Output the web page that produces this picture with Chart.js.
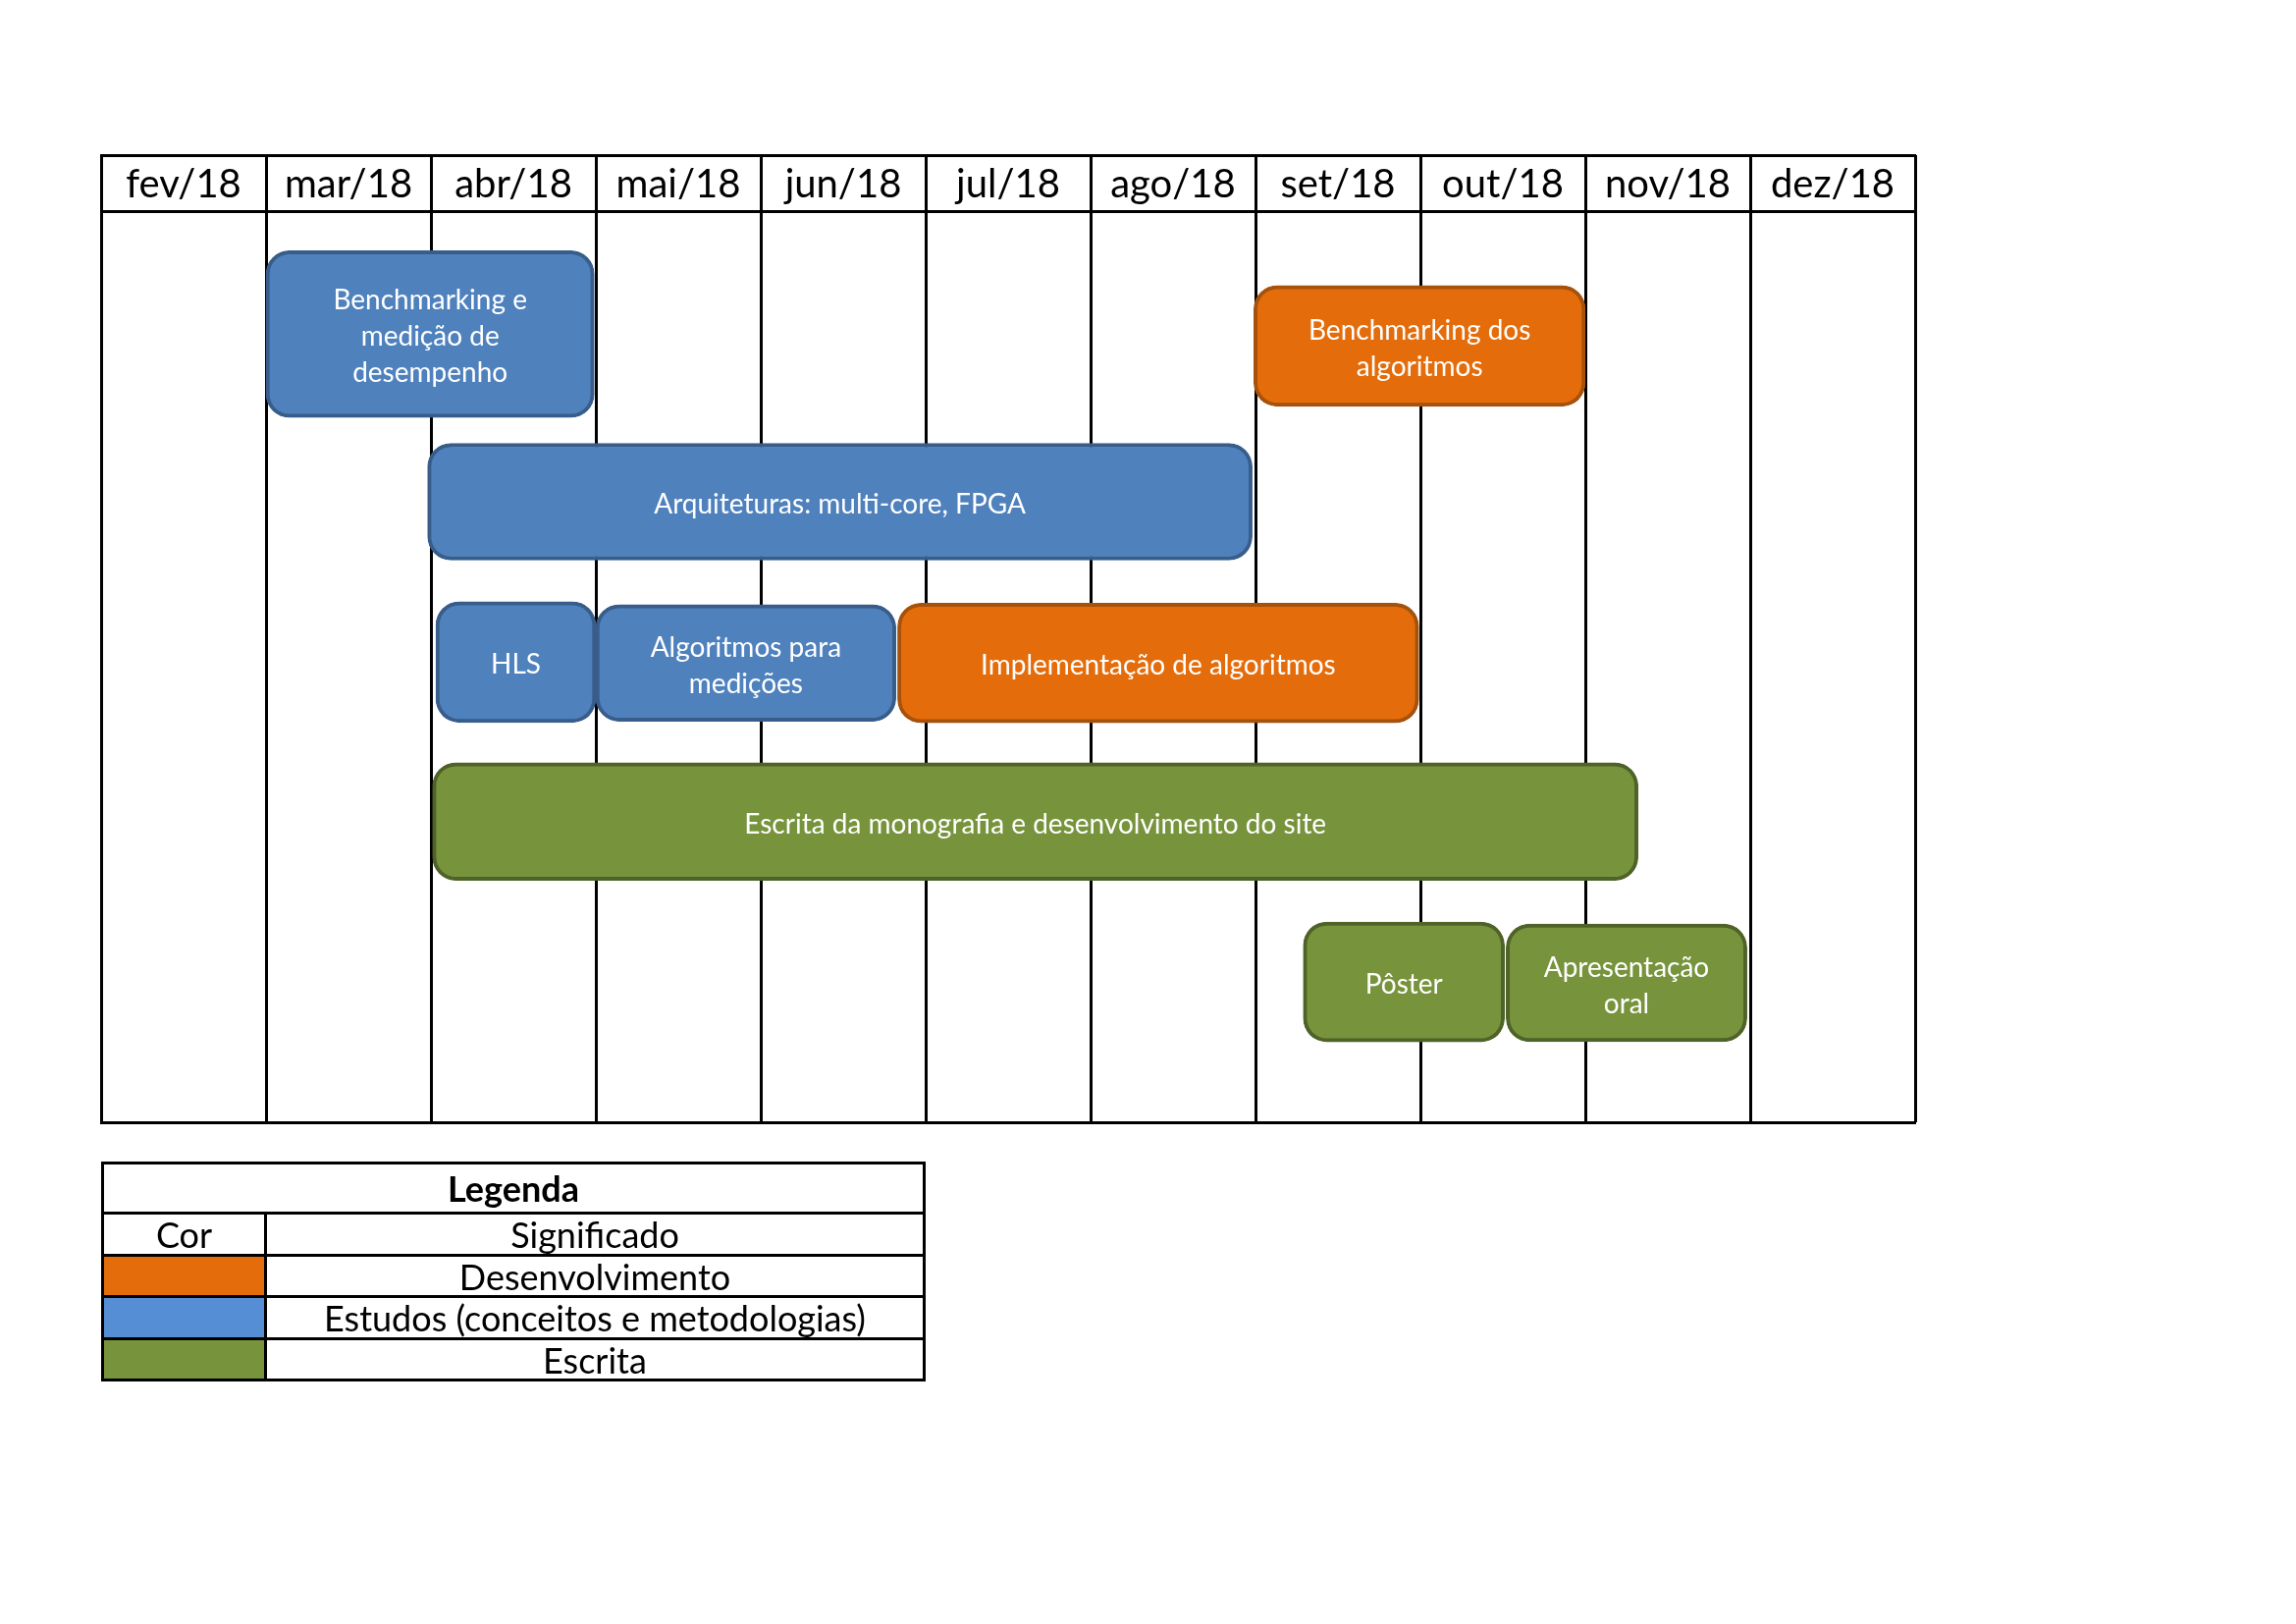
<!DOCTYPE html>
<html>
<head>
<meta charset="utf-8">
<style>
html, body { margin: 0; padding: 0; background: #fff; }
#wrap { position: relative; width: 2339px; height: 1654px; }
#grafico { position: absolute; left: 0; top: 0; }
#legenda { position: absolute; left: 103px; top: 1183px; width: 840px; border-collapse: collapse;
  font-family: Lato, sans-serif; font-size: 36px; color: #000; }
#legenda td { border: 3px solid #000; text-align: center; padding: 0; line-height: 1; }
#legenda th { border: 3px solid #000; text-align: center; padding: 0; line-height: 1; font-weight: bold; }
</style>
</head>
<body>
<div id="wrap">
  <canvas id="grafico" width="2339" height="1654"></canvas>
  <table id="legenda"></table>
</div>

<script src="https://cdn.jsdelivr.net/npm/chart.js"></script>
<script>
// meses do cronograma
const meses = ['fev/18', 'mar/18', 'abr/18', 'mai/18', 'jun/18', 'jul/18', 'ago/18', 'set/18', 'out/18', 'nov/18', 'dez/18'];

// atividades (inicio/fim em meses a partir de fev/18, linha = posicao vertical)
const tarefas = [
  ['Benchmarking e', 'medição de', 'desempenho'],
  ['Benchmarking dos', 'algoritmos'],
  ['Arquiteturas: multi-core, FPGA'],
  ['HLS'],
  ['Algoritmos para', 'medições'],
  ['Implementação de algoritmos'],
  ['Escrita da monografia e desenvolvimento do site'],
  ['Pôster'],
  ['Apresentação', 'oral']
];
const inicio = [1, 6.99, 1.98, 2.03, 3, 4.83, 2.01, 7.29, 8.52];
const fim    = [2.99, 9, 6.98, 3, 4.82, 7.99, 9.32, 8.51, 9.98];
const linha  = [1.35, 1.48, 3.19, 4.95, 4.96, 4.96, 6.70, 8.46, 8.47];
const tipo   = ['estudo', 'desenv', 'estudo', 'estudo', 'estudo', 'desenv', 'escrita', 'escrita', 'escrita'];

// legenda
const legendaCores = ['desenv', 'estudo', 'escrita'];
const legendaTexto = ['Desenvolvimento', 'Estudos (conceitos e metodologias)', 'Escrita'];

// estilos
const altura = [170, 123, 119, 123, 119, 122, 120, 122, 120];
const corFundo = { estudo: '#4F81BD', desenv: '#E46C0A', escrita: '#77933C' };
const corBorda = { estudo: '#385D8A', desenv: '#A5520C', escrita: '#4F6228' };
const corLegenda = { estudo: '#558ED5', desenv: '#E46C0A', escrita: '#77933C' };

const W = 2339, H = 1654;
const pad = { left: 103, right: 388, top: 158, bottom: 511 };
const colW = (W - pad.left - pad.right) / meses.length;
const cabecalho = 57;
const fonteMes = 40;

// monta a tabela da legenda
let tab = document.getElementById('legenda');
let html = '<tr style="height:51px"><th colspan="2">Legenda</th></tr>';
html += '<tr style="height:43px"><td style="width:163px">Cor</td><td>Significado</td></tr>';
legendaCores.forEach((c, i) => {
  html += '<tr style="height:' + (i % 2 ? 43 : 42) + 'px"><td style="background:' + corLegenda[c] + '"></td><td>' + legendaTexto[i] + '</td></tr>';
});
tab.innerHTML = html;

// texto dentro das barras
const rotulos = {
  id: 'rotulos',
  afterDatasetsDraw(chart) {
    let ctx = chart.ctx;
    ctx.save();
    ctx.fillStyle = '#fff';
    ctx.font = '28px Lato';
    ctx.textAlign = 'center';
    ctx.textBaseline = 'middle';
    chart.data.datasets.forEach((ds, i) => {
      let bar = chart.getDatasetMeta(i).data[0];
      let c = bar.getCenterPoint();
      let linhas = tarefas[i];
      linhas.forEach((t, k) => {
        ctx.fillText(t, c.x, c.y + 3 + (k - (linhas.length - 1) / 2) * 37);
      });
    });
    ctx.restore();
  }
};

let datasets = tarefas.map((t, i) => ({
  label: t.join(' '),
  data: [{ x: [inicio[i], fim[i]], y: linha[i] }],
  backgroundColor: corFundo[tipo[i]],
  borderColor: corBorda[tipo[i]],
  borderWidth: 4,
  borderRadius: 24,
  borderSkipped: false,
  barThickness: altura[i],
  grouped: false,
  xAxisID: 'x',
  yAxisID: 'y'
}));

let ctx = document.getElementById('grafico').getContext('2d');
let chart = new Chart(ctx, {
  type: 'bar',
  data: { datasets: datasets },
  plugins: [rotulos],
  options: {
    indexAxis: 'y',
    responsive: false,
    animation: false,
    devicePixelRatio: 1,
    layout: { padding: pad },
    plugins: { legend: { display: false }, tooltip: { enabled: false } },
    scales: {
      x: {
        type: 'linear',
        position: 'top',
        min: 0,
        max: meses.length,
        weight: 0,
        ticks: {
          stepSize: 1,
          autoSkip: false,
          maxRotation: 0,
          labelOffset: colW / 2,
          padding: -(cabecalho / 2 + fonteMes * 1.2 / 2) - 2,
          color: '#000',
          font: { family: 'Lato', size: fonteMes },
          callback: v => meses[v] || ''
        },
        grid: { color: '#000', tickColor: '#000', lineWidth: 3, tickLength: cabecalho, drawTicks: true },
        border: { display: true, color: '#000', width: 3 },
        afterFit: s => { s.height = cabecalho; }
      },
      topo: {
        type: 'linear',
        position: 'top',
        weight: 5,
        ticks: { display: false },
        grid: { drawOnChartArea: false, drawTicks: false },
        border: { display: true, color: '#000', width: 3 }
      },
      base: {
        type: 'linear',
        position: 'bottom',
        ticks: { display: false },
        grid: { drawOnChartArea: false, drawTicks: false },
        border: { display: true, color: '#000', width: 3 }
      },
      y: { type: 'linear', min: 0, max: 10, reverse: true, offset: false, display: false }
    }
  }
});
</script>
</body>
</html>
